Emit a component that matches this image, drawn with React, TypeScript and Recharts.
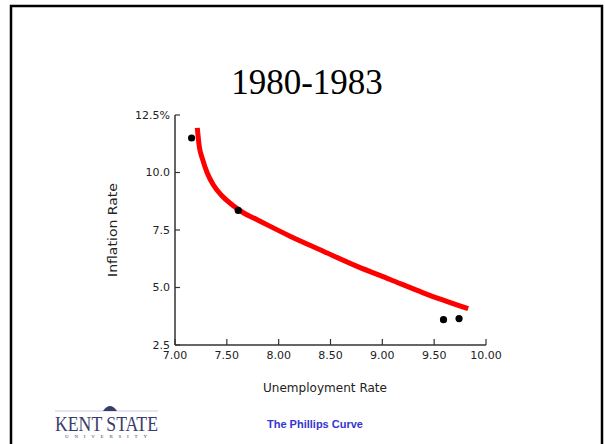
import React from "react";
import { ComposedChart, Line, Scatter, XAxis, YAxis } from "recharts";

// red fitted curve
const curveX = [7.215, 7.234, 7.267, 7.311, 7.369, 7.45, 7.547, 7.659, 7.788, 7.9, 8.11, 8.43, 8.752, 9.075, 9.394, 9.828];
const curveY = [11.94, 11.14, 10.56, 9.98, 9.47, 9.0, 8.61, 8.25, 7.96, 7.7, 7.23, 6.58, 5.93, 5.35, 4.77, 4.08];

// yearly observations 1980-1983
const pointX = [7.16, 7.61, 9.59, 9.74];
const pointY = [11.5, 8.35, 3.6, 3.65];

const xTicks = [7, 7.5, 8, 8.5, 9, 9.5, 10];
const yTicks = [2.5, 5, 7.5, 10, 12.5];
const yTickLabels = ["2.5", "5.0", "7.5", "10.0", "12.5%"];

const curve = curveX.map((x, i) => ({ x, y: curveY[i] }));
const points = pointX.map((x, i) => ({ x, y: pointY[i] }));

const AXIS = "#333";
const TICK_FONT = "'DejaVu Sans', Arial, sans-serif";

const XTick = (props: any) => {
  const { x, y, payload } = props;
  const axisY = y - 6;
  return (
    <g>
      <line x1={x} x2={x} y1={axisY} y2={axisY - 6} stroke={AXIS} strokeWidth={1.2} />
      <text x={x} y={y} dy="0.71em" textAnchor="middle" fontSize={11} fontFamily={TICK_FONT} fill="#222">
        {payload.value.toFixed(2)}
      </text>
    </g>
  );
};

const YTick = (props: any) => {
  const { x, y, payload } = props;
  const axisX = x + 5;
  const idx = yTicks.indexOf(payload.value);
  return (
    <g>
      <line x1={axisX} x2={axisX + 5} y1={y} y2={y} stroke={AXIS} strokeWidth={1.2} />
      <text x={x} y={y} dy="0.355em" textAnchor="end" fontSize={11} fontFamily={TICK_FONT} fill="#222">
        {yTickLabels[idx]}
      </text>
    </g>
  );
};

export default function App() {
  return (
    <div style={{ position: "absolute", left: 0, top: 0, width: 605, height: 444, overflow: "hidden", background: "#fff" }}>
      <svg width={605} height={444} style={{ position: "absolute", left: 0, top: 0 }}>
        <rect x={11} y={6} width={591} height={470} fill="none" stroke="#000" strokeWidth={2.5} />
        <text x={307} y={94} textAnchor="middle" fontSize={35} fontFamily="'Liberation Serif', 'Times New Roman', serif" fill="#000">
          1980-1983
        </text>
        <text x={263} y={392} textLength={124} lengthAdjust="spacingAndGlyphs" fontSize={12} fontFamily={TICK_FONT} fill="#222">
          Unemployment Rate
        </text>
        <text x={113} y={277} dy="0.35em" textLength={94} lengthAdjust="spacingAndGlyphs" transform="rotate(-90 113 277)" fontSize={12} fontFamily={TICK_FONT} fill="#222">
          Inflation Rate
        </text>
        {/* Kent State wordmark */}
        <line x1={55} x2={158} y1={411} y2={411} stroke="#c9cbe0" strokeWidth={1} />
        <path d="M103 411 Q110 401 117 411 Z" fill="#3a3d6b" />
        <text x={55} y={431} textLength={103} lengthAdjust="spacingAndGlyphs" fontSize={20} fontFamily="'Liberation Serif', 'Times New Roman', serif" fill="#3a3d6b">
          KENT STATE
        </text>
        <text x={65} y={438} textLength={82} lengthAdjust="spacing" fontSize={5} fontFamily="'Liberation Serif', serif" fill="#3a3d6b">
          UNIVERSITY
        </text>
        <text x={267} y={428} fontSize={11} fontWeight="bold" fontFamily="'Liberation Sans', Arial, sans-serif" fill="#3535d0">
          The Phillips Curve
        </text>
      </svg>
      <div style={{ position: "absolute", left: 0, top: 0 }}>
        <ComposedChart width={605} height={444} margin={{ top: 115, right: 119, bottom: 69, left: 115 }}>
          <XAxis
            type="number"
            dataKey="x"
            domain={[7, 10]}
            ticks={xTicks}
            tickSize={0}
            tickMargin={6}
            tickLine={false}
            tick={<XTick />}
            height={30}
            stroke={AXIS}
            strokeWidth={1.5}
            allowDataOverflow
          />
          <YAxis
            type="number"
            dataKey="y"
            domain={[2.5, 12.5]}
            ticks={yTicks}
            tickSize={0}
            tickMargin={5}
            tickLine={false}
            tick={<YTick />}
            width={60}
            stroke={AXIS}
            strokeWidth={1.5}
            allowDataOverflow
          />
          <Scatter data={points} fill="#000" isAnimationActive={false} shape={(p: any) => <circle cx={p.cx} cy={p.cy} r={3.6} fill="#000" />} />
          <Line data={curve} dataKey="y" type="monotone" stroke="#ff0000" strokeWidth={5} dot={false} isAnimationActive={false} />
        </ComposedChart>
      </div>
    </div>
  );
}
